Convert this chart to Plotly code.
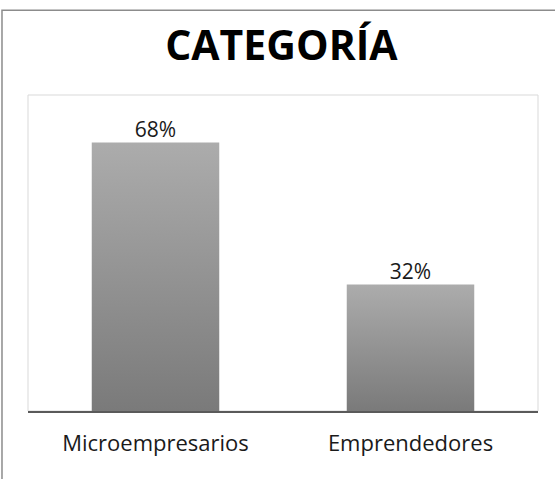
"""
plot.py

Bar chart "CATEGORÍA" with grey gradient bars
"""

import plotly.graph_objects as go

categories = ["Microempresarios", "Emprendedores"]
shares = [0.68, 0.32]
share_labels = ["68%", "32%"]

BAR_W = 0.5
FONT = "Open Sans"

fig = go.Figure()

# ---------------------------
# bars (filled polygons so they can carry a vertical gradient)
# ---------------------------

for i, v in enumerate(shares):
    x0, x1 = i - BAR_W / 2, i + BAR_W / 2
    fig.add_trace(go.Scatter(
        x=[x0, x1, x1, x0, x0],
        y=[0, 0, v, v, 0],
        mode="lines",
        line=dict(width=0, color="rgba(0,0,0,0)"),
        fill="toself",
        fillgradient=dict(
            type="vertical",
            colorscale=[[0, "#7a7a7a"], [1, "#acacac"]],
        ),
        hoverinfo="skip",
        showlegend=False,
    ))

# ---------------------------
# value labels
# ---------------------------

fig.add_trace(go.Scatter(
    x=list(range(len(shares))),
    y=shares,
    mode="text",
    text=share_labels,
    textposition="top center",
    textfont=dict(family=FONT, size=21, color="#1a1a1a"),
    hoverinfo="skip",
    showlegend=False,
))

# ---------------------------
# frames
# ---------------------------

# plot area border (light)
fig.add_shape(type="rect", xref="paper", yref="paper",
              x0=0, x1=1, y0=0, y1=1,
              line=dict(color="#d9d9d9", width=1), layer="below")

# outer chart border (left/top visible, rest runs off the image)
fig.add_shape(type="rect", xref="paper", yref="paper",
              x0=-0.051, x1=1.2, y0=-0.4, y1=1.268,
              line=dict(color="#8c8c8c", width=1.5))

# ---------------------------
# layout
# ---------------------------

fig.update_layout(
    width=555,
    height=479,
    margin=dict(l=28, r=17, t=95, b=68),
    paper_bgcolor="white",
    plot_bgcolor="white",
    title=dict(
        text="<b>CATEGORÍA</b>",
        x=0.507, xanchor="center",
        y=0.905, yanchor="middle",
        font=dict(family=FONT, size=41, color="#000000"),
    ),
    xaxis=dict(
        range=[-0.5, 1.5],
        tickvals=list(range(len(categories))),
        ticktext=categories,
        showgrid=False,
        zeroline=False,
        showline=True,
        linecolor="#5a5a5a",
        linewidth=2,
        ticks="",
        ticklabelstandoff=12,
        tickfont=dict(family=FONT, size=22, color="#1a1a1a"),
        fixedrange=True,
    ),
    yaxis=dict(
        range=[0, 0.8],
        showgrid=False,
        zeroline=False,
        showline=False,
        showticklabels=False,
        ticks="",
        fixedrange=True,
    ),
)

# page body has an 8px default margin; drop it so the figure fills the window
fig.write_html(
    "out.html",
    config={"displayModeBar": False},
    post_script="document.body.style.margin='0';",
)
